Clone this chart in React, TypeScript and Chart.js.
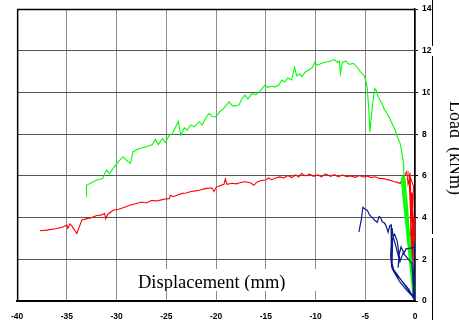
import React, { useEffect, useRef } from "react";
import { Chart, registerables } from "chart.js";

Chart.register(...registerables);

const xTickValues = [-40, -35, -30, -25, -20, -15, -10, -5, 0];
const yTickValues = [0, 2, 4, 6, 8, 10, 12, 14];
const xTitle = "Displacement (mm)";
const yTitle = "Load  (kNm)";

const greenX = [
  -33.0, -33.05, -33.0, -32.0, -31.4, -31.2, -31.0, -30.7, -30.3, -29.8, -29.35, -29.0, -28.6, -28.36, -27.8,
  -27.0, -26.4, -26.1, -25.8, -25.4, -25.1, -24.7, -24.4, -24.1, -23.8, -23.55, -23.2, -22.9, -22.55, -22.2,
  -21.7, -21.4, -21.0, -20.7, -20.4, -20.0, -19.6, -19.3, -18.7, -18.3, -17.7, -17.4, -17.1, -16.8, -16.4,
  -16.0, -15.5, -15.1, -14.8, -14.4, -14.1, -13.7, -13.4, -13.1, -12.8, -12.4, -12.1, -11.9, -11.6, -11.4,
  -11.0, -10.6, -10.3, -10.1, -9.8, -9.4, -9.0, -8.6, -8.1, -7.8, -7.6, -7.5, -7.3, -6.96, -6.6,
  -6.2, -5.8, -5.5, -5.14, -4.9, -4.8, -4.65, -4.53, -4.3, -4.05, -3.9, -3.7, -3.5, -3.3, -3.1,
  -2.8, -2.5, -2.2, -1.99, -1.8, -1.5, -1.35, -1.16, -1.1, -0.9, -0.2, -0.05, -1.3, -1.0, -0.15,
  -1.2, -0.8, -0.1, -1.4, -0.25, -1.0, -0.6, 0.0,
];
const greenY = [
  5.0, 5.5, 5.55, 5.8, 5.87, 6.1, 6.28, 6.1, 6.4, 6.7, 6.92, 6.75, 6.6, 7.15, 7.3,
  7.4, 7.5, 7.75, 7.5, 7.8, 7.6, 7.95, 8.04, 8.3, 8.63, 7.95, 8.3, 8.2, 8.44, 8.35,
  8.6, 8.45, 8.8, 9.0, 8.85, 8.83, 9.1, 9.2, 9.55, 9.35, 9.4, 9.7, 9.87, 9.7, 9.95,
  9.9, 10.1, 10.35, 10.25, 10.3, 10.27, 10.35, 10.6, 10.5, 10.7, 10.6, 11.2, 10.8, 10.9, 10.75,
  11.0, 11.1, 11.2, 11.45, 11.3, 11.4, 11.45, 11.5, 11.58, 11.45, 11.5, 10.9, 11.45, 11.5, 11.35,
  11.4, 11.2, 11.0, 10.83, 10.5, 10.2, 9.2, 8.1, 9.3, 10.2, 10.1, 9.8, 9.6, 9.47, 9.2,
  8.99, 8.7, 8.4, 8.2, 7.9, 7.56, 7.2, 6.6, 6.0, 5.0, 0.3, 0.1, 6.0, 5.5, 0.2,
  5.8, 4.8, 0.1, 5.9, 0.5, 5.9, 3.5, 0.0,
];

const redX = [
  -37.7, -37.0, -36.0, -35.4, -35.0, -34.9, -34.7, -34.5, -34.0, -33.5, -33.0, -32.5, -32.0, -31.6, -31.2,
  -31.1, -30.9, -30.35, -29.8, -29.2, -28.6, -28.0, -27.5, -27.0, -26.5, -26.0, -25.5, -25.0, -24.7, -24.6,
  -24.3, -23.8, -23.4, -23.0, -22.5, -22.06, -21.6, -21.0, -20.4, -20.2, -20.0, -19.5, -19.2, -19.07, -18.9,
  -18.4, -18.0, -17.5, -17.08, -16.5, -16.2, -15.9, -15.5, -15.0, -14.76, -14.4, -14.0, -13.6, -13.2, -12.77,
  -12.4, -12.0, -11.7, -11.4, -11.0, -10.6, -10.2, -9.78, -9.4, -9.0, -8.5, -8.1, -7.7, -7.3, -6.9,
  -6.47, -6.0, -5.6, -5.2, -4.8, -4.4, -4.0, -3.6, -3.15, -2.8, -2.4, -2.1, -1.82, -1.5, -1.2,
  -0.83, -0.7, -0.5, -0.4, -0.3, -0.2, -0.5, -0.35, -0.15, -0.6, -0.25, -0.1, -0.05, -0.3, -0.45,
];
const redY = [
  3.37, 3.4, 3.48, 3.55, 3.64, 3.48, 3.7, 3.6, 3.24, 3.88, 3.95, 4.0, 4.1, 4.12, 4.2,
  3.95, 4.15, 4.35, 4.4, 4.5, 4.6, 4.68, 4.75, 4.7, 4.82, 4.8, 4.85, 4.9, 4.91, 5.07,
  5.0, 5.1, 5.16, 5.18, 5.25, 5.28, 5.32, 5.4, 5.42, 5.25, 5.45, 5.55, 5.6, 5.85, 5.6,
  5.65, 5.62, 5.68, 5.72, 5.66, 5.55, 5.7, 5.78, 5.8, 5.9, 5.82, 5.9, 5.95, 5.9, 6.02,
  5.92, 6.05, 5.95, 6.12, 6.0, 6.08, 5.98, 6.05, 5.96, 6.1, 5.98, 6.06, 5.95, 6.05, 5.96,
  6.0, 5.93, 6.02, 5.95, 5.99, 5.92, 5.96, 5.88, 5.87, 5.82, 5.78, 5.72, 5.7, 5.63, 5.9,
  6.2, 5.6, 6.0, 2.5, 1.8, 3.0, 5.9, 2.2, 5.5, 6.1, 1.7, 4.0, 2.6, 5.2, 3.1,
];

const blueX = [
  -5.64, -5.4, -5.24, -5.0, -4.8, -4.6, -4.4, -4.2, -4.0, -3.8, -3.6, -3.45, -3.3, -3.1, -2.95,
  -2.8, -2.7, -2.55, -2.4, -2.35, -2.4, -2.3, -2.0, -1.5, -0.8, -0.3, 0.0, -0.05, -0.1, -0.3,
  -0.9, -1.1, -1.4, -1.6, -1.7, -1.6, -1.9, -2.2, -2.3, -2.45, -2.35, -2.1, -1.3, -0.6, -0.1,
  -0.3, -1.2, -1.5, -1.8, -2.05, -2.25, -2.3, -2.15, -1.0, -0.2, -0.05,
];
const blueY = [
  3.32, 3.9, 4.49, 4.4, 4.36, 4.15, 4.05, 3.95, 3.85, 3.78, 4.05, 4.0, 3.8, 3.75, 3.65,
  3.45, 3.3, 3.6, 3.65, 3.2, 2.0, 1.55, 1.3, 0.9, 0.5, 0.25, 0.0, 1.2, 2.6, 2.55,
  2.5, 2.3, 2.6, 2.2, 1.6, 2.0, 2.6, 3.1, 3.5, 2.2, 1.65, 1.4, 0.95, 0.55, 0.1,
  1.8, 2.3, 1.9, 2.9, 3.2, 3.0, 1.8, 1.5, 0.75, 0.2, 2.8,
];

const toPoints = (xs: number[], ys: number[]) => xs.map((x, i) => ({ x, y: ys[i] }));

const decorPlugin = {
  id: "decor",
  afterDraw(chart: any) {
    const ctx = chart.ctx as CanvasRenderingContext2D;
    const a = chart.chartArea;
    ctx.save();
    // left and top frame
    ctx.strokeStyle = "#000";
    ctx.lineWidth = 1.5;
    ctx.beginPath();
    ctx.moveTo(a.left + 0.5, a.bottom);
    ctx.lineTo(a.left + 0.5, a.top + 0.5);
    ctx.lineTo(a.right, a.top + 0.5);
    ctx.stroke();

    // x title box
    const bx = 135, by = 269, bw = 185, bh = 22;
    ctx.fillStyle = "#fff";
    ctx.fillRect(bx, by, bw, bh);
    ctx.save();
    ctx.beginPath();
    ctx.rect(bx, by, bw, bh);
    ctx.clip();
    ctx.fillStyle = "#000";
    ctx.font = "18.5px 'Liberation Serif', 'Times New Roman', serif";
    ctx.textBaseline = "alphabetic";
    ctx.textAlign = "left";
    ctx.fillText(xTitle, 138, 288);
    ctx.restore();

    // right side box + line
    ctx.fillStyle = "#fff";
    ctx.fillRect(430, 56, 29, 178);
    ctx.strokeStyle = "#000";
    ctx.lineWidth = 1;
    ctx.beginPath();
    ctx.moveTo(432.5, 0);
    ctx.lineTo(432.5, 46);
    ctx.moveTo(432.5, 56);
    ctx.lineTo(432.5, 234);
    ctx.moveTo(432.5, 238);
    ctx.lineTo(432.5, 320);
    ctx.stroke();

    // y title
    ctx.save();
    ctx.translate(450, 148);
    ctx.rotate(Math.PI / 2);
    ctx.fillStyle = "#000";
    ctx.font = "18px 'Liberation Serif', 'Times New Roman', serif";
    ctx.textAlign = "center";
    ctx.textBaseline = "alphabetic";
    ctx.fillText(yTitle, 0, 0);
    ctx.restore();
    ctx.restore();
  },
};

export default function App() {
  const ref = useRef<HTMLCanvasElement | null>(null);
  useEffect(() => {
    if (!ref.current) return;
    const chart = new Chart(ref.current, {
      type: "scatter",
      data: {
        datasets: [
          {
            data: toPoints(blueX, blueY),
            borderColor: "#0c1a8c",
            borderWidth: 1.2,
            showLine: true,
            pointRadius: 0,
            tension: 0,
            order: 0,
          },
          {
            data: toPoints(greenX, greenY),
            borderColor: "#00ff00",
            borderWidth: 1.1,
            showLine: true,
            pointRadius: 0,
            tension: 0,
            order: 1,
          },
          {
            data: toPoints(redX, redY),
            borderColor: "#ff0000",
            borderWidth: 1.1,
            showLine: true,
            pointRadius: 0,
            tension: 0,
            order: 2,
          },
        ],
      },
      options: {
        responsive: false,
        animation: false,
        devicePixelRatio: 1,
        layout: { padding: { left: 13, top: 9, right: 0, bottom: 0 } },
        plugins: { legend: { display: false }, tooltip: { enabled: false } },
        scales: {
          x: {
            type: "linear",
            min: -40,
            max: 0,
            afterBuildTicks: (s: any) => {
              s.ticks = xTickValues.map((v) => ({ value: v }));
            },
            afterFit: (s: any) => {
              s.height = 19;
            },
            grid: { color: "#8c8c8c", lineWidth: 1, drawTicks: false },
            border: { display: true, color: "#000", width: 2 },
            ticks: {
              padding: 11,
              color: "#000",
              font: { family: "'Liberation Sans', Arial, sans-serif", size: 8.5, weight: "bold" },
              maxRotation: 0,
              autoSkip: false,
              callback: (v: any) => String(v),
            },
          },
          y: {
            type: "linear",
            position: "right",
            min: 0,
            max: 14,
            afterBuildTicks: (s: any) => {
              s.ticks = yTickValues.map((v) => ({ value: v }));
            },
            afterFit: (s: any) => {
              s.width = 44;
            },
            grid: { color: "#555", lineWidth: 1, drawTicks: true, tickLength: 3, tickColor: "#000" },
            border: { display: true, color: "#000", width: 1.5 },
            ticks: {
              padding: 4,
              color: "#000",
              font: { family: "'Liberation Sans', Arial, sans-serif", size: 8.5, weight: "bold" },
              autoSkip: false,
              callback: (v: any) => String(v),
            },
          },
        },
      },
      plugins: [decorPlugin],
    } as any);
    return () => chart.destroy();
  }, []);
  return (
    <div style={{ position: "absolute", left: 0, top: 0, width: 459, height: 320, background: "#fff" }}>
      <canvas ref={ref} width={459} height={320} style={{ display: "block" }} />
    </div>
  );
}
